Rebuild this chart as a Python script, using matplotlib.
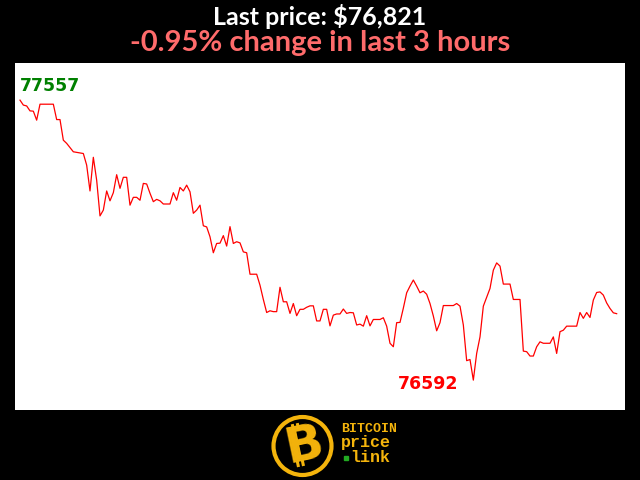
"""
Bitcoin price chart for the last 3 hours, drawn in the style of the
bitcoin price link widget.
"""

import numpy as np
import matplotlib
matplotlib.use("Agg")
import matplotlib.pyplot as plt
from matplotlib.patches import Circle, Ellipse

# minutes since start of window and price in USD
minutes = [0, 1, 2, 3, 4, 5, 6, 10, 11, 12, 13, 14, 16, 17, 18, 19, 20, 21,
           22, 23, 24, 25, 26, 27, 28, 29, 30, 31, 32, 33, 34, 35, 36, 37, 38,
           39, 40, 41, 42, 43, 45, 46, 47, 48, 49, 50, 51, 52, 53, 54, 55, 56,
           57, 58, 59, 60, 61, 62, 63, 64, 65, 66, 67, 68, 69, 71, 72, 73, 74,
           75, 76, 77, 78, 79, 80, 81, 82, 83, 84, 85, 86, 87, 88, 89, 90, 91,
           92, 93, 94, 95, 96, 97, 98, 99, 100, 101, 102, 103, 104, 105, 106,
           108, 109, 110, 111, 112, 113, 114, 115, 116, 117, 118, 119, 120,
           121, 122, 123, 124, 125, 126, 127, 128, 130, 131, 132, 133, 134,
           135, 136, 137, 138, 139, 140, 141, 142, 143, 144, 145, 147, 148,
           150, 151, 152, 153, 154, 155, 156, 157, 159, 160, 161, 162, 163,
           164, 167, 168, 169, 170, 171, 172, 173, 174, 175, 176, 177, 178, 179]
prices = [77557, 77540, 77537, 77520, 77519, 77488, 77543, 77543, 77490, 77490,
          77419, 77408, 77379, 77377, 77375, 77373, 77333, 77244, 77360, 77281,
          77158, 77178, 77244, 77210, 77238, 77300, 77253, 77291, 77291, 77195,
          77222, 77222, 77212, 77270, 77268, 77236, 77207, 77215, 77210, 77199,
          77199, 77238, 77212, 77256, 77244, 77264, 77241, 77167, 77178, 77195,
          77124, 77120, 77086, 77031, 77063, 77064, 77090, 77054, 77121, 77063,
          77069, 77065, 77034, 77031, 76957, 76957, 76919, 76870, 76825, 76831,
          76828, 76828, 76912, 76862, 76862, 76822, 76856, 76814, 76836, 76836,
          76843, 76848, 76848, 76796, 76796, 76836, 76836, 76779, 76816, 76820,
          76820, 76837, 76822, 76825, 76824, 76782, 76785, 76778, 76814, 76779,
          76801, 76801, 76807, 76778, 76719, 76707, 76790, 76791, 76840, 76893,
          76916, 76937, 76916, 76893, 76899, 76888, 76856, 76813, 76762, 76790,
          76849, 76849, 76849, 76856, 76847, 76782, 76659, 76663, 76592, 76684,
          76741, 76847, 76877, 76908, 76971, 76996, 76985, 76923, 76923, 76870,
          76870, 76692, 76690, 76675, 76675, 76707, 76724, 76719, 76719, 76741,
          76684, 76759, 76764, 76778, 76778, 76825, 76805, 76825, 76808, 76868,
          76894, 76896, 76885, 76858, 76839, 76824, 76821]

title_text = "Last price: $76,821"
subtitle_text = "-0.95% change in last 3 hours"

GOLD = "#f4b40c"

fig = plt.figure(figsize=(6.4, 4.8), dpi=100, facecolor="black")
ax = fig.add_axes([15 / 640, 70 / 480, 610 / 640, 347 / 480])
ax.set_facecolor("white")
ax.plot(minutes, prices, color="#ff0000", lw=0.9)
ax.set_xlim(-1.5, 181.5)
ax.set_ylim(76489, 77685)
ax.set_xticks([])
ax.set_yticks([])
for s in ax.spines.values():
    s.set_visible(False)

# max / min labels
i_max = prices.index(max(prices))
i_min = prices.index(min(prices))
ax.annotate(str(max(prices)), (minutes[i_max], prices[i_max]),
            xytext=(0, 4), textcoords="offset points", ha="left", va="bottom",
            color="#008000", fontsize=12.5, fontweight="bold")
ax.annotate(str(min(prices)), (minutes[i_min], prices[i_min]),
            xytext=(-11, -3), textcoords="offset points", ha="right",
            va="center", color="#ff0000", fontsize=12.5, fontweight="bold")

# headings
fig.text(0.5, 1 - 25 / 480, title_text, color="white", ha="center",
         va="baseline", fontsize=18, fontweight="bold", family="Lato")
fig.text(0.5, 1 - 51.5 / 480, subtitle_text, color="#ff6b6b", ha="center",
         va="baseline", fontsize=21, fontweight="bold", family="Lato")

# logo
lg = fig.add_axes([0, 0, 1, 70 / 480])
lg.set_xlim(0, 640)
lg.set_ylim(0, 70)
lg.axis("off")
lg.set_aspect("equal")
lg.add_patch(Circle((302.5, 34), 29, fill=False, ec=GOLD, lw=3))
tilt = 12
lg.text(304, 35, "B", color=GOLD, fontsize=36, fontweight="heavy",
        ha="center", va="center", rotation=tilt, family="DejaVu Sans")
# bitcoin strokes above and below the B
d = np.array([-np.sin(np.radians(tilt)), np.cos(np.radians(tilt))])
for x0, y0 in [(293.5, 50), (298.5, 51), (298.5, 13), (303.5, 14)]:
    p0 = np.array([x0, y0])
    p1 = p0 + 6 * d
    lg.plot([p0[0], p1[0]], [p0[1], p1[1]], color=GOLD, lw=2.2,
            solid_capstyle="butt")
# chain links on the stem
for cx, cy in [(289.5, 39), (291.5, 30.5)]:
    lg.add_patch(Ellipse((cx, cy), 3.5, 8, angle=tilt, fill=False,
                         ec="black", lw=1.1))
lg.text(341, 50.5, "BITCOIN", color=GOLD, fontsize=9.5, fontweight="bold",
        family="Liberation Mono", ha="left", va="center")
lg.text(341, 37, "price", color=GOLD, fontsize=12, fontweight="bold",
        family="Liberation Mono", ha="left", va="center")
lg.text(350, 23, "link", color=GOLD, fontsize=12, fontweight="bold",
        family="Liberation Mono", ha="left", va="center")
lg.plot([345.5], [22], "s", color="#22aa22", ms=2.5)

fig.savefig("out.png", dpi=100, facecolor="black")
plt.close(fig)
